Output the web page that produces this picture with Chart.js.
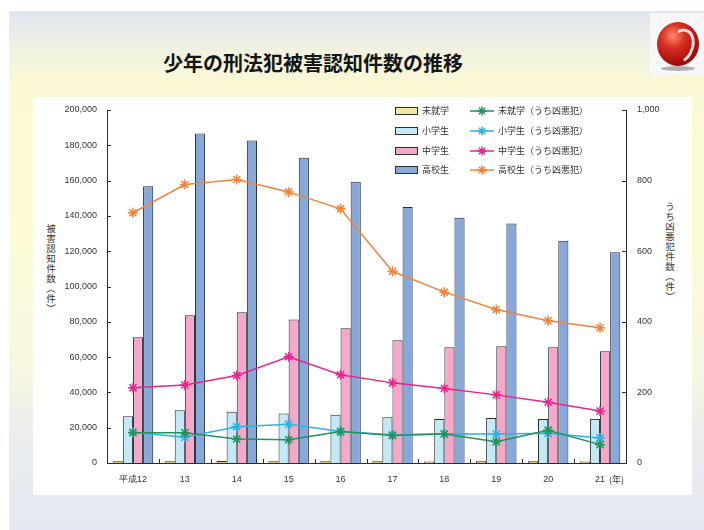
<!DOCTYPE html>
<html lang="ja">
<head>
<meta charset="utf-8">
<title>少年の刑法犯被害認知件数の推移</title>
<script src="https://cdn.jsdelivr.net/npm/chart.js@4/dist/chart.umd.min.js"></script>
<style>
  html, body { margin: 0; padding: 0; background: #ffffff; }
  #page { position: relative; width: 704px; height: 530px; overflow: hidden; font-family: "Noto Sans CJK JP", "Noto Sans", sans-serif; }
  #bg { position: absolute; left: 9px; top: 11px; right: 0; bottom: 0;
        background: linear-gradient(to bottom, #dfe6f0 0%, #eef0e4 6%, #fbf8d5 14%, #fdfbd8 45%, #f6f6e2 70%, #e9ecee 84%, #e4e8f2 100%); }
  #panel { position: absolute; left: 33px; top: 97px; width: 659px; height: 398px; background: #ffffff; }
  #title { position: absolute; left: 163px; top: 48px; font-size: 20px; font-weight: bold; color: #151515; letter-spacing: 0px; white-space: nowrap; }
  .vtitle { position: absolute; writing-mode: vertical-rl; text-orientation: upright; font-size: 9.5px; color: #333; letter-spacing: 0.5px; white-space: nowrap; }
  #logoBox { position: absolute; left: 650px; top: 13px; width: 54px; height: 62px; background: #f7f7f7; }
  #logo { position: absolute; left: 657px; top: 22px; width: 42px; height: 44px; border-radius: 50%;
          background: radial-gradient(circle at 38% 32%, #ff8a6a 0%, #d83020 30%, #a81010 65%, #6a0606 100%); }
  #logoSwirl { position: absolute; left: 668px; top: 28px; width: 20px; height: 30px; border-radius: 50%;
               border: 3px solid rgba(255,255,255,0.85); border-left-color: transparent; border-bottom-color: transparent; transform: rotate(20deg); }
  #logoShadow { position: absolute; left: 661px; top: 66px; width: 34px; height: 5px; border-radius: 50%; background: rgba(90,90,90,0.45); }
  canvas { position: absolute; left: 0; top: 0; }
</style>
</head>
<body>
<div id="page">
  <div id="bg"></div>
  <div id="panel"></div>
  <div id="title">少年の刑法犯被害認知件数の推移</div>
  <div id="logoBox"></div>
  <div id="logo"></div>
  <div id="logoSwirl"></div>
  <div id="logoShadow"></div>
  <div class="vtitle" style="left:44px; top:224px;">被害認知件数（件）</div>
  <div class="vtitle" style="left:663px; top:202px;">うち凶悪犯件数（件）</div>
  <canvas id="chart" width="704" height="530"></canvas>
</div>
<script>
// Fiscal years (Heisei era)
const years = ['平成12', '13', '14', '15', '16', '17', '18', '19', '20', '21'];
const yearUnit = '(年)';

// Recognized juvenile victim counts (left axis)
const preschool  = [1000, 1000, 1100, 1000, 1000, 1000, 900, 1000, 1000, 900];
const elementary = [26500, 29900, 29100, 28000, 27300, 25900, 25000, 25500, 25000, 25000];
const juniorHigh = [71200, 83700, 85400, 81300, 76400, 69500, 65600, 66100, 65600, 63300];
const highSchool = [156800, 186700, 182700, 172900, 159300, 145100, 138900, 135700, 125900, 119400];

// Of which: violent crimes (right axis)
const preschoolViolent  = [86, 86, 68, 66, 89, 78, 82, 60, 93, 52];
const elementaryViolent = [87, 73, 103, 110, 89, 80, 83, 82, 84, 71];
const juniorViolent     = [213, 221, 248, 301, 250, 227, 211, 193, 172, 147];
const highViolent       = [709, 789, 803, 768, 720, 543, 484, 435, 403, 383];

// Axis tick ranges
const leftTicks  = { min: 0, max: 200000, step: 20000 };
const rightTicks = { min: 0, max: 1000, step: 200 };

const barLabels  = ['未就学', '小学生', '中学生', '高校生'];
const lineLabels = ['未就学（うち凶悪犯）', '小学生（うち凶悪犯）', '中学生（うち凶悪犯）', '高校生（うち凶悪犯）'];

const barFill   = ['#d8c98a', '#c3e8f6', '#f5a9ca', '#87a9da'];
const lineColor = ['#24915a', '#2fb2e0', '#e6268f', '#f0843c'];
const edge = '#2b2b33';
const tickFont = { family: '"Liberation Sans", "Noto Sans", sans-serif', size: 9 };

const barSeries  = [preschool, elementary, juniorHigh, highSchool];
const lineSeries = [preschoolViolent, elementaryViolent, juniorViolent, highViolent];

const datasets = [];
barSeries.forEach((d, i) => datasets.push({
  type: 'bar', label: barLabels[i], data: d, yAxisID: 'y', order: 2,
  backgroundColor: barFill[i], borderColor: edge, borderWidth: 1,
  categoryPercentage: 0.78, barPercentage: 1.0
}));
lineSeries.forEach((d, i) => datasets.push({
  type: 'line', label: lineLabels[i], data: d, yAxisID: 'y1', order: 1,
  borderColor: lineColor[i], backgroundColor: lineColor[i], borderWidth: 1.5,
  pointStyle: 'star', pointRadius: 5, pointBorderWidth: 1.5, pointBorderColor: lineColor[i],
  tension: 0
}));

// Short tick marks pointing into the plot area, plus category separators on the x axis
const innerTicks = {
  id: 'innerTicks',
  afterDatasetsDraw(chart) {
    const { ctx, chartArea: a, scales } = chart;
    ctx.save();
    ctx.strokeStyle = edge;
    ctx.lineWidth = 1;
    ctx.beginPath();
    scales.y.ticks.forEach(t => {
      const py = Math.round(scales.y.getPixelForValue(t.value)) + 0.5;
      ctx.moveTo(a.left, py); ctx.lineTo(a.left + 4, py);
    });
    scales.y1.ticks.forEach(t => {
      const py = Math.round(scales.y1.getPixelForValue(t.value)) + 0.5;
      ctx.moveTo(a.right, py); ctx.lineTo(a.right - 4, py);
    });
    for (let i = 1; i < years.length; i++) {
      const px = Math.round((scales.x.getPixelForValue(i - 1) + scales.x.getPixelForValue(i)) / 2) + 0.5;
      ctx.moveTo(px, a.bottom); ctx.lineTo(px, a.bottom - 4);
    }
    ctx.stroke();
    // unit after the last year label
    ctx.fillStyle = '#333';
    ctx.font = '9px "Noto Sans CJK JP", sans-serif';
    ctx.textBaseline = 'middle';
    ctx.textAlign = 'left';
    ctx.fillText(yearUnit, scales.x.getPixelForValue(years.length - 1) + 9, a.bottom + 17);
    ctx.restore();
  }
};

// Two-column legend: bars on the left, violent-crime lines on the right
const gridLegend = {
  id: 'gridLegend',
  afterDraw(chart) {
    const { ctx, chartArea: a } = chart;
    const ds = chart.data.datasets;
    const rowY = [1, 21, 41, 60];
    ctx.save();
    ctx.font = '9px "Noto Sans CJK JP", sans-serif';
    ctx.textBaseline = 'middle';
    ctx.textAlign = 'left';
    for (let r = 0; r < 4; r++) {
      const y = a.top + rowY[r];
      const bar = ds[r];
      const bx = a.left + 288;
      ctx.fillStyle = r === 0 ? '#f3e5a4' : bar.backgroundColor;
      ctx.fillRect(bx, y - 4, 23, 8);
      ctx.strokeStyle = edge; ctx.lineWidth = 1;
      ctx.strokeRect(bx + 0.5, y - 3.5, 22, 7);
      ctx.fillStyle = '#333';
      ctx.fillText(bar.label, bx + 27, y);
      const line = ds[r + 4];
      const lx = a.left + 363;
      ctx.strokeStyle = line.borderColor; ctx.lineWidth = 1.5;
      ctx.beginPath(); ctx.moveTo(lx, y); ctx.lineTo(lx + 24, y); ctx.stroke();
      Chart.helpers.drawPoint(ctx, { pointStyle: 'star', radius: 4.5, rotation: 0, borderWidth: 1.5 }, lx + 12, y);
      ctx.fillStyle = '#333';
      ctx.fillText(line.label, lx + 28, y);
    }
    ctx.restore();
  }
};

new Chart(document.getElementById('chart'), {
  data: { labels: years, datasets },
  options: {
    responsive: false,
    animation: false,
    devicePixelRatio: 1,
    locale: 'en-US',
    layout: { padding: { left: 0, right: 38, top: 110, bottom: 37 } },
    plugins: { legend: { display: false }, tooltip: { enabled: false } },
    scales: {
      x: {
        offset: true,
        grid: { display: false, drawTicks: false },
        border: { display: true, color: edge, width: 1 },
        ticks: { color: '#333', font: tickFont, padding: 11, maxRotation: 0, autoSkip: false },
        afterFit(s) { s.height = 30; }
      },
      y: {
        position: 'left', min: leftTicks.min, max: leftTicks.max,
        grid: { display: false, drawTicks: false },
        border: { display: true, color: edge, width: 1 },
        ticks: { stepSize: leftTicks.step, color: '#333', font: tickFont, padding: 10 },
        afterFit(s) { s.width = 107; }
      },
      y1: {
        position: 'right', min: rightTicks.min, max: rightTicks.max,
        grid: { display: false, drawTicks: false },
        border: { display: true, color: edge, width: 1 },
        ticks: { stepSize: rightTicks.step, color: '#333', font: tickFont, padding: 11 },
        afterFit(s) { s.width = 40; }
      }
    }
  },
  plugins: [innerTicks, gridLegend]
});
</script>
</body>
</html>
